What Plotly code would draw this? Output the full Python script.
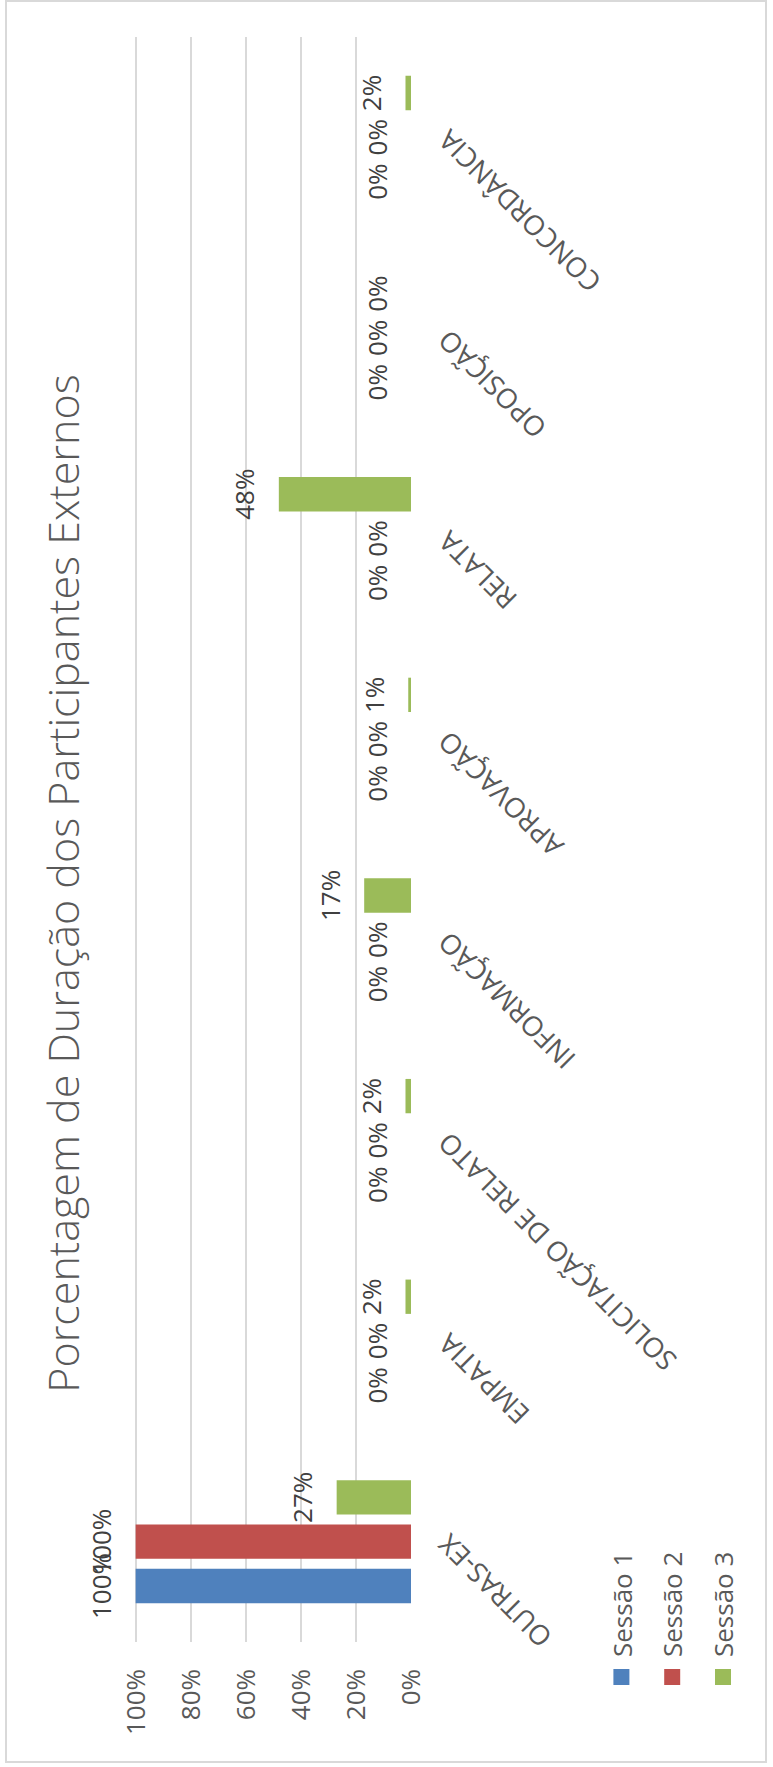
import plotly.graph_objects as go

# ---------------- data ----------------
categories = ["OUTRAS-EX", "EMPATIA", "SOLICITAÇÃO DE RELATO", "INFORMAÇÃO",
              "APROVAÇÃO", "RELATA", "OPOSIÇÃO", "CONCORDÂNCIA"]
series_names = ["Sessão 1", "Sessão 2", "Sessão 3"]
sessao1 = [1.00, 0.00, 0.00, 0.00, 0.00, 0.00, 0.00, 0.00]
sessao2 = [1.00, 0.00, 0.00, 0.00, 0.00, 0.00, 0.00, 0.00]
sessao3 = [0.27, 0.02, 0.02, 0.17, 0.01, 0.48, 0.00, 0.02]
value_ticks = [0, 0.2, 0.4, 0.6, 0.8, 1.0]
title_text = "Porcentagem de Duração dos Participantes Externos"

# ---------------- style ----------------
colors = ["#4F81BD", "#C0504D", "#9BBB59"]
TEXT = "#595959"
LABEL_TEXT = "#404040"
GRID = "#D9D9D9"
FONT = "Open Sans"

# chart is drawn in its natural (landscape) orientation and the page turns it
W, H = 1767, 773
ML, MR, MT, MB = 125, 37, 60, 362   # outer plotting area (label twin axis uses all of it)
MAIN_TOP = 134                        # top of the visible value axis
Y_RANGE = [0, 1.006]
LABEL_PAD = 0.049  # gap between bar end and its label, in axis units

plot_w = W - ML - MR
plot_h = H - MT - MB
D = (H - MAIN_TOP - MB) / plot_h      # domain fraction of the main value axis
Y2_RANGE = [0, Y_RANGE[1] / D]        # same pixel scale as the main axis

fig = go.Figure()
all_series = [sessao1, sessao2, sessao3]
for name, vals, col in zip(series_names, all_series, colors):
    fig.add_trace(go.Bar(
        x=categories, y=vals, name=name, showlegend=False,
        marker=dict(color=col, line=dict(width=0)),
        xaxis="x", yaxis="y", hoverinfo="skip",
    ))
# data labels (transparent companion bars on a twin subplot carry the text)
for name, vals in zip(series_names, all_series):
    fig.add_trace(go.Bar(
        x=categories, y=[v + LABEL_PAD for v in vals],
        text=[f"{v:.0%}" for v in vals],
        textposition="outside", textangle=0, constraintext="none", cliponaxis=False,
        textfont=dict(family=FONT, size=26, color=LABEL_TEXT),
        marker=dict(color="rgba(0,0,0,0)", line=dict(width=0)),
        showlegend=False, hoverinfo="skip", xaxis="x2", yaxis="y2",
    ))
# legend entries (square swatches)
for name, col, grp in zip(series_names, colors, ["g1", "g2", "g3"]):
    fig.add_trace(go.Scatter(
        x=[None], y=[None], mode="markers", name=name, legendgroup=grp,
        marker=dict(symbol="square", size=16, color=col, line=dict(width=0)),
        xaxis="x", yaxis="y", hoverinfo="skip",
    ))

border = dict(type="rect", xref="paper", yref="paper",
              x0=(5 - ML) / plot_w, x1=(W - 1 - ML) / plot_w,
              y0=(H - 766 - MB) / plot_h, y1=(H - 6 - MB) / plot_h,
              line=dict(color=GRID, width=2), fillcolor="rgba(0,0,0,0)", layer="below")

cat_axis = dict(type="category", categoryorder="array", categoryarray=categories,
                range=[-0.5, 7.5])

fig.update_layout(
    width=W, height=H,
    margin=dict(l=ML, r=MR, t=MT, b=MB, pad=0, autoexpand=False),
    paper_bgcolor="white", plot_bgcolor="rgba(0,0,0,0)",
    barmode="group", bargap=0.337, bargroupgap=0.226,
    font=dict(family=FONT, size=26, color=TEXT),
    title=dict(text=title_text, x=0.5, xref="container", xanchor="center",
               y=1 - 63.5 / H, yref="container", yanchor="middle",
               font=dict(family=FONT, size=43, color=TEXT, weight=300)),
    xaxis=dict(**cat_axis, tickangle=-45, showgrid=False, showline=False,
               zeroline=False, ticks="", automargin=False, ticklabelstandoff=15,
               tickfont=dict(family=FONT, size=27.5, color=TEXT)),
    yaxis=dict(range=Y_RANGE, domain=[0, D], tickvals=value_ticks, tickformat=".0%",
               showgrid=True, gridcolor=GRID, gridwidth=2, zeroline=False,
               showline=False, ticks="", ticklabelstandoff=26, automargin=False,
               tickfont=dict(family=FONT, size=26, color=TEXT)),
    xaxis2=dict(**cat_axis, anchor="y2", domain=[0, 1], visible=False),
    yaxis2=dict(range=Y2_RANGE, anchor="x2", domain=[0, 1], visible=False),
    legend=dict(orientation="v", xref="container", yref="container",
                x=70 / W, xanchor="left", y=1 - 598 / H, yanchor="top",
                font=dict(family=FONT, size=26, color=TEXT),
                tracegroupgap=14, itemwidth=30, bgcolor="rgba(0,0,0,0)"),
    shapes=[border],
)

post = """
var gd = document.getElementById('{plot_id}');
document.documentElement.style.margin = '0';
document.body.style.margin = '0';
document.documentElement.style.overflow = 'hidden';
document.body.style.overflow = 'hidden';
var p = gd.parentElement;
p.style.position = 'relative';
p.style.width = '773px';
p.style.height = '1767px';
p.style.overflow = 'hidden';
gd.style.position = 'absolute';
gd.style.left = '0px';
gd.style.top = '0px';
gd.style.transformOrigin = '0 0';
gd.style.transform = 'translateY(1767px) rotate(-90deg)';
"""

fig.write_html("out.html", post_script=post, config={"displayModeBar": False})
